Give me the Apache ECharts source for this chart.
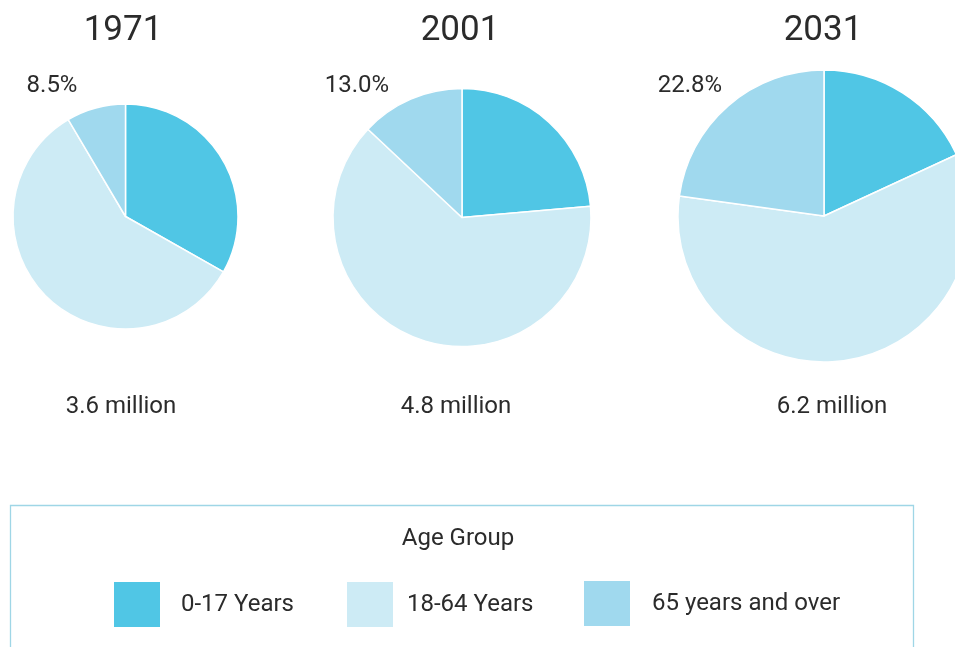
<!DOCTYPE html>
<html><head><meta charset="utf-8">
<script src="https://cdn.jsdelivr.net/npm/echarts@6/dist/echarts.min.js"></script>
<style>html,body{margin:0;padding:0;background:#fff}#c{width:955px;height:647px}</style>
</head><body><div id="c"></div>
<script>
const years = ['1971', '2001', '2031'];
const groups = ['0-17 Years', '18-64 Years', '65 years and over'];
const share0_17 = [33.2, 23.6, 18.1];
const share18_64 = [58.3, 63.4, 59.1];
const share65 = [8.5, 13.0, 22.8];
const totals = ['3.6 million', '4.8 million', '6.2 million'];
const legendTitle = 'Age Group';

const colors = ['#50c6e5', '#cdebf5', '#a0d9ee'];
const centers = [[125.5, 216.5], [462, 217.5], [824, 216]];
const radii = [112.5, 129, 146];
const yearX = [123, 460, 823];
const pctX = [52, 357, 690];
const totalX = [121, 456, 832];
const FONT = 'Roboto, "Open Sans", sans-serif';

const series = years.map((y, i) => ({
  type: 'pie', name: y, center: centers[i], radius: radii[i],
  startAngle: 90, clockwise: true, silent: true, animation: false,
  label: {show: false}, labelLine: {show: false},
  itemStyle: {borderColor: '#ffffff', borderWidth: 1.5},
  data: [
    {name: groups[0], value: share0_17[i], itemStyle: {color: colors[0]}},
    {name: groups[1], value: share18_64[i], itemStyle: {color: colors[1]}},
    {name: groups[2], value: share65[i], itemStyle: {color: colors[2]}}
  ]
}));

const texts = [];
years.forEach((y, i) => {
  texts.push({type: 'text', x: yearX[i], y: 31, style: {text: y, fontSize: 35, fontFamily: FONT, fill: '#2b2b2b', textAlign: 'center', textVerticalAlign: 'middle'}});
  texts.push({type: 'text', x: pctX[i], y: 86, style: {text: share65[i].toFixed(1) + '%', fontSize: 24, fontFamily: FONT, fill: '#2b2b2b', textAlign: 'center', textVerticalAlign: 'middle'}});
  texts.push({type: 'text', x: totalX[i], y: 407, style: {text: totals[i], fontSize: 24, fontFamily: FONT, fill: '#2b2b2b', textAlign: 'center', textVerticalAlign: 'middle'}});
});
texts.push({type: 'rect', shape: {x: 10.5, y: 505.5, width: 903, height: 200}, style: {fill: 'none', stroke: '#9fd6e6', lineWidth: 1.3}, z: -1});
texts.push({type: 'text', x: 458, y: 539, style: {text: legendTitle, fontSize: 24, fontFamily: FONT, fill: '#2b2b2b', textAlign: 'center', textVerticalAlign: 'middle'}});

const legendLeft = [112, 345, 582];
const legendTop = [580, 580, 579];
const legendTextGap = [15, 8, 16];
const legends = groups.map((g, i) => ({
  data: [{name: g, icon: 'rect', itemStyle: {color: colors[i]}}],
  left: legendLeft[i], top: legendTop[i], itemWidth: 48, itemHeight: 47, itemGap: 0,
  padding: 0, selectedMode: false,
  textStyle: {fontSize: 24, fontFamily: FONT, color: '#2b2b2b', padding: [i === 2 ? 0 : 6, 0, 0, legendTextGap[i]]}
}));

const chart = echarts.init(document.getElementById('c'), null, {renderer: 'canvas'});
chart.setOption({
  animation: false,
  backgroundColor: '#ffffff',
  legend: legends,
  series: series,
  graphic: texts
});
</script></body></html>
